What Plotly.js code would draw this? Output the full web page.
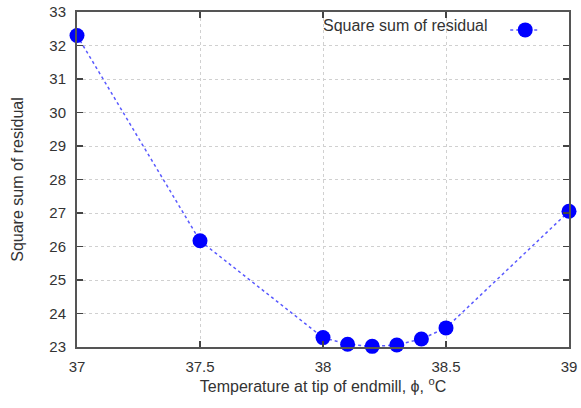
<!DOCTYPE html>
<html>
<head>
<meta charset="utf-8">
<script src="https://cdn.plot.ly/plotly-3.0.1.min.js"></script>
<style>html,body{margin:0;padding:0;background:#fff;}#chart{width:581px;height:408px;}</style>
</head>
<body>
<div id="chart"></div>
<script>
const temperature = [37, 37.5, 38, 38.1, 38.2, 38.3, 38.4, 38.5, 39];
const residual = [32.3, 26.17, 23.28, 23.08, 23.02, 23.06, 23.24, 23.57, 27.05];
const xTicks = [37, 37.5, 38, 38.5, 39];
const xTickLabels = ['37', '37.5', '38', '38.5', '39'];
const yTicks = [23, 24, 25, 26, 27, 28, 29, 30, 31, 32, 33];
const seriesName = 'Square sum of residual';

const FONT = 'Liberation Sans, Arial, sans-serif';
const axisCommon = {
  showline: true, linecolor: '#555', linewidth: 2, mirror: 'ticks',
  ticks: 'inside', ticklen: 6, tickcolor: '#444', tickwidth: 1.5,
  showgrid: true, gridcolor: '#d0d0d0', griddash: 'dot', gridwidth: 1,
  zeroline: false,
  tickfont: {family: FONT, size: 15, color: '#333'}
};

Plotly.newPlot('chart', [{
  x: temperature, y: residual, type: 'scatter', mode: 'lines+markers',
  name: ' ',
  line: {color: '#5a5aff', dash: 'dot', width: 1.5},
  marker: {color: '#0000ff', size: 15},
  cliponaxis: false
}], {
  width: 581, height: 408,
  margin: {l: 77, r: 12, t: 12, b: 61},
  paper_bgcolor: '#fff', plot_bgcolor: '#fff',
  showlegend: true,
  legend: {x: 0.972, y: 0.995, xanchor: 'right', yanchor: 'top', bgcolor: 'rgba(0,0,0,0)',
           font: {family: FONT, size: 15, color: '#333'},
           itemwidth: 30},
  annotations: [{
    xref: 'paper', yref: 'paper', x: 0.8395, y: 0.99, xanchor: 'right', yanchor: 'top',
    text: seriesName, showarrow: false,
    font: {family: FONT, size: 16, color: '#333'}
  }],
  xaxis: Object.assign({}, axisCommon, {
    range: [37, 39], tickvals: xTicks, ticktext: xTickLabels, ticklabelstandoff: 5,
    title: {text: 'Temperature at tip of endmill, ϕ, <sup>o</sup>C', standoff: 4,
            font: {family: FONT, size: 16, color: '#333'}}
  }),
  yaxis: Object.assign({}, axisCommon, {
    range: [23, 33], tickvals: yTicks, ticklabelstandoff: 6,
    title: {text: seriesName, standoff: 22,
            font: {family: FONT, size: 16, color: '#333'}}
  })
}, {displayModeBar: false, staticPlot: true});
</script>
</body>
</html>
